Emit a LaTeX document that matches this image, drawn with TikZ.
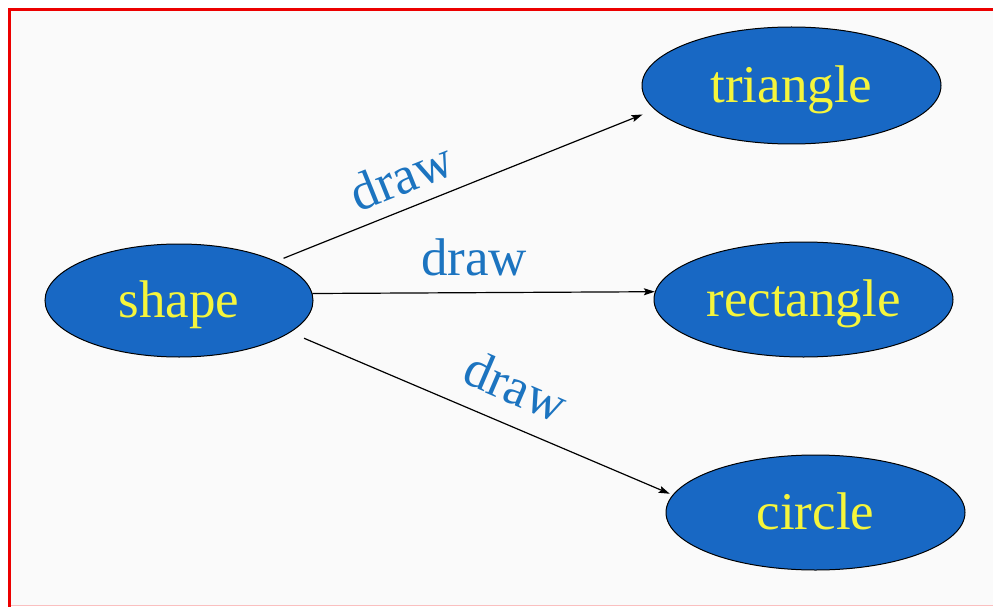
\documentclass[tikz,border=0pt]{standalone}
\usepackage{fontspec}
\setmainfont{Liberation Serif}
\usetikzlibrary{shapes.geometric,arrows.meta}
\definecolor{nodeblue}{RGB}{24,104,196}
\definecolor{labelblue}{RGB}{28,116,192}
\definecolor{txtyellow}{RGB}{245,245,60}
\definecolor{framered}{RGB}{236,0,0}
\definecolor{bggray}{RGB}{250,250,250}
\begin{document}
\begin{tikzpicture}[x=1pt,y=-1pt,
  shapenode/.style={ellipse, draw=black, line width=1pt, fill=nodeblue, text=txtyellow,
    inner sep=0pt, font=\fontsize{53}{60}\selectfont, text height=34pt, text depth=0pt},
  edgelabel/.style={text=labelblue, font=\fontsize{53}{60}\selectfont, inner sep=0pt},
  conn/.style={line width=1.2pt, -{Stealth[length=11pt,width=7pt,inset=2pt]}}]
\useasboundingbox (0,0) rectangle (993,607);
\fill[white] (0,0) rectangle (993,607);
\fill[bggray] (10,10) rectangle (993,606);
\draw[framered!25, line width=1.5pt] (10,605.5) -- (993,605.5);
\draw[framered, line width=3pt] (9.5,607) -- (9.5,10) -- (993,10);

\node[shapenode, minimum width=268pt, minimum height=113pt] (shape) at (179,300.5) {shape};
\node[shapenode, minimum width=299pt, minimum height=117pt] (triangle) at (791.5,85.5) {triangle};
\node[shapenode, minimum width=299pt, minimum height=115pt] (rectangle) at (803.5,299.5) {rectangle};
\node[shapenode, minimum width=299pt, minimum height=115pt] (circle) at (815.5,512.5) {circle};

\draw[conn, shorten <=7.8pt, shorten >=13pt] (shape.22.4) -- (triangle.190.5);
\draw[conn] (shape.3.2) -- (rectangle.177.5);
\draw[conn, shorten <=14.8pt, shorten >=3pt] (shape.-16.4) -- (circle.173.1);

\node[edgelabel, rotate=21.9] (l1) at (401,176) {draw};
\node[edgelabel, anchor=base] (l2) at (474,275) {draw};
\node[edgelabel, rotate=-23.3] (l3) at (516,386) {draw};
\end{tikzpicture}
\end{document}
